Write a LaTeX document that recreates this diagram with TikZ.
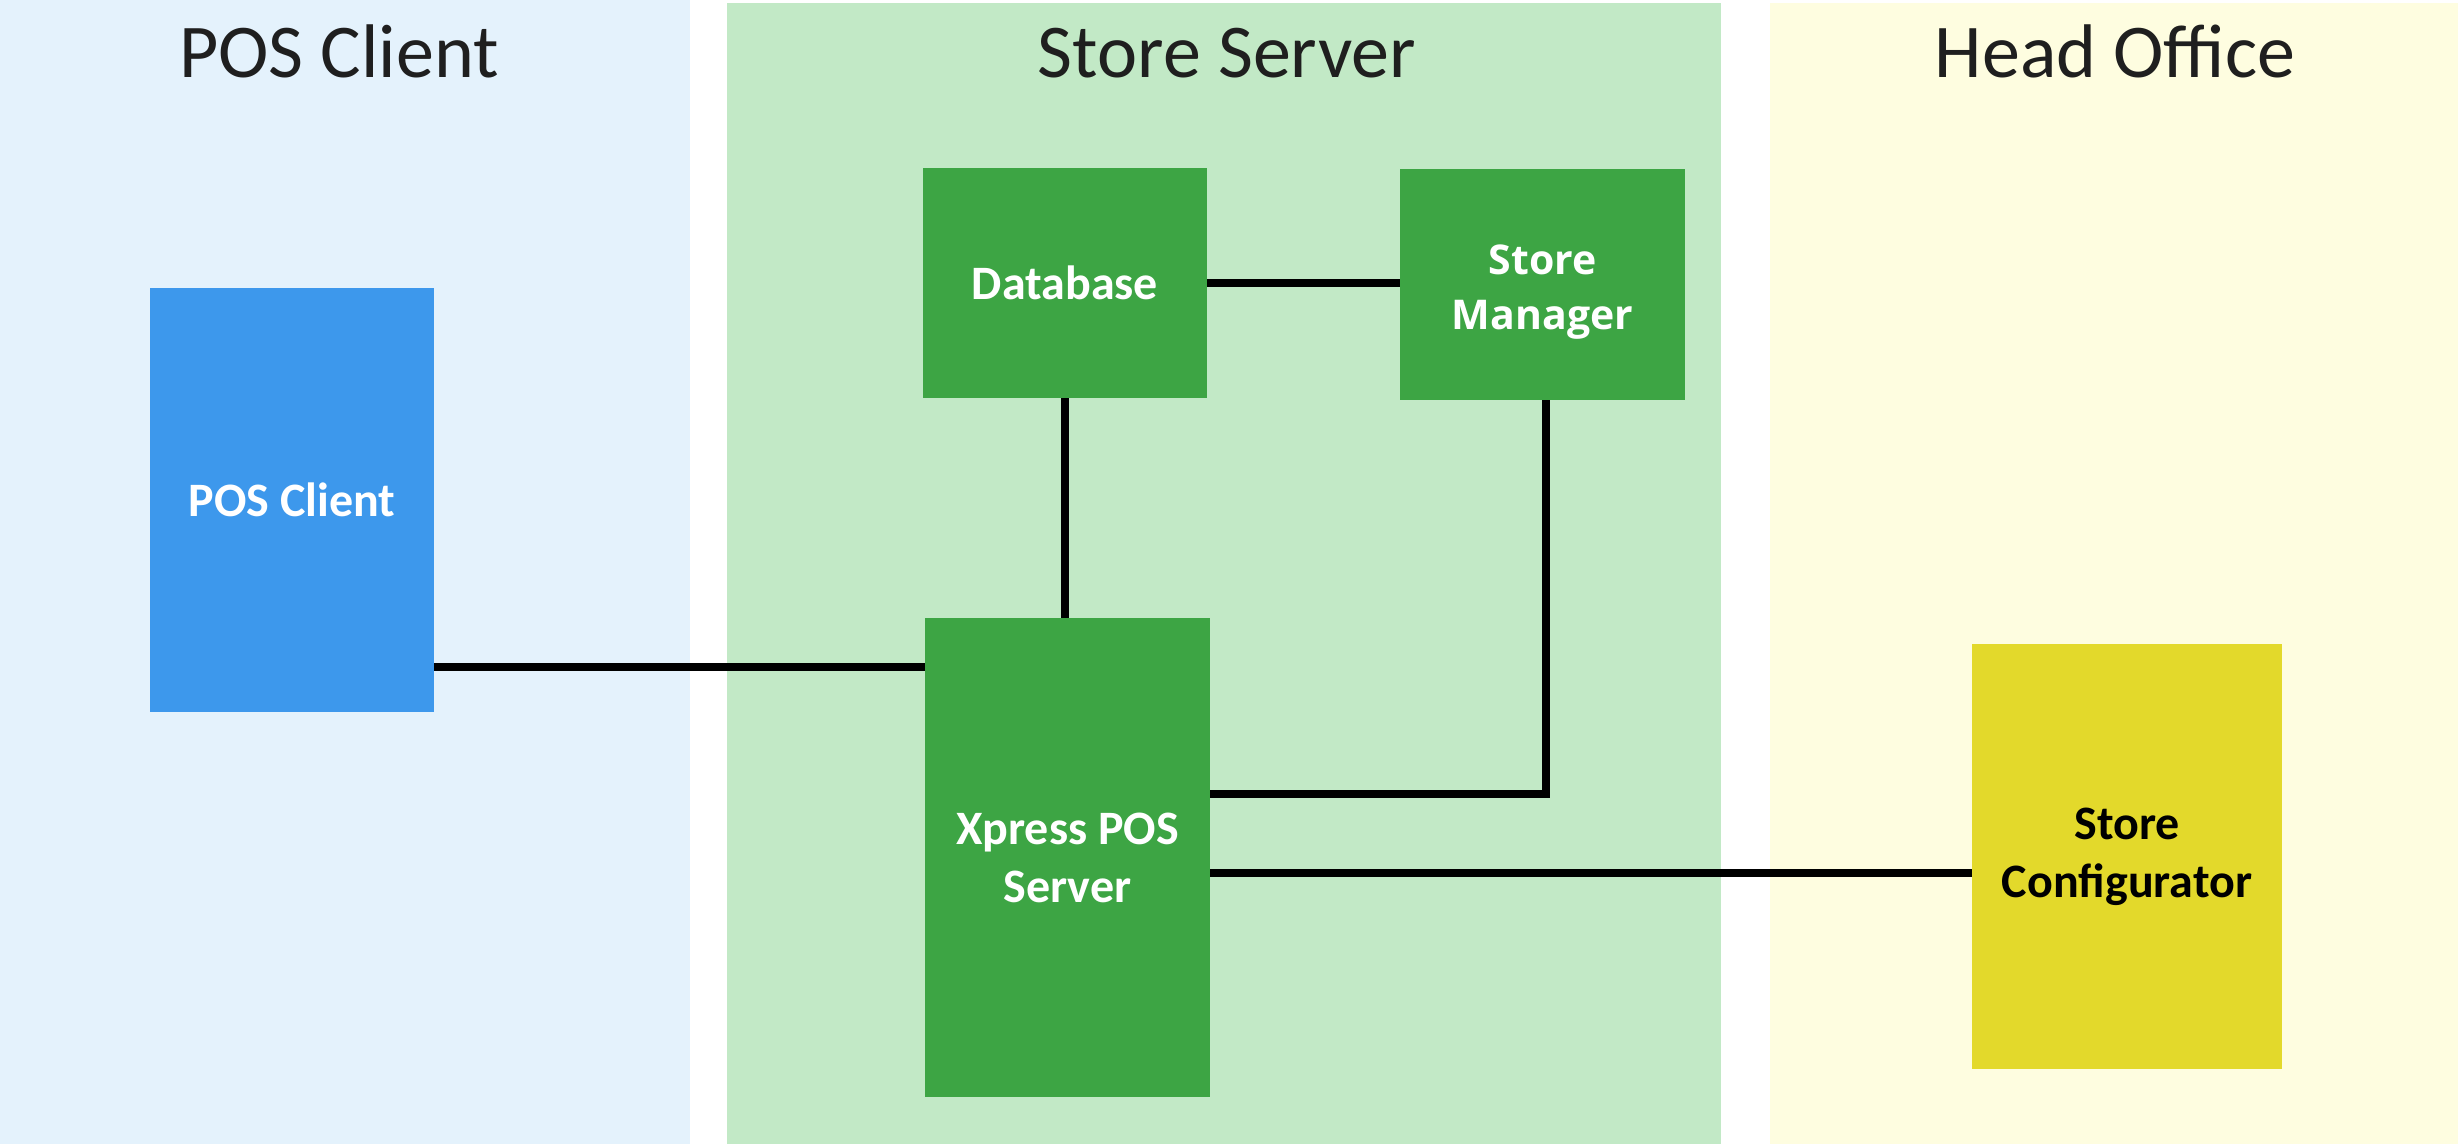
\documentclass[tikz,border=0pt]{standalone}
\usepackage{fontspec}
\setmainfont{Carlito}
\newfontfamily\osans{Open Sans}
\definecolor{panelblue}{HTML}{E4F2FC}
\definecolor{panelgreen}{HTML}{C2E9C6}
\definecolor{panelyellow}{HTML}{FEFDE0}
\definecolor{boxblue}{HTML}{3D98EC}
\definecolor{boxgreen}{HTML}{3DA544}
\definecolor{boxyellow}{HTML}{E3D92B}
\tikzset{
  panel/.style={draw=none},
  title/.style={font=\fontsize{38}{44}\selectfont, text=black!88, anchor=base, inner sep=0pt},
  box/.style={draw=none, rectangle, inner sep=0pt, align=center, text=white,
    font=\bfseries\fontsize{24}{29}\selectfont},
  link/.style={line width=4pt, draw=black}
}
\begin{document}
\begin{tikzpicture}[x=0.5pt, y=-0.5pt]
\useasboundingbox (0,0) rectangle (2458,1144);
\fill[white] (0,0) rectangle (2458,1144);
% panels
\fill[panelblue] (0,0) rectangle (690,1144);
\fill[panelgreen] (727,3) rectangle (1721,1144);
\fill[panelyellow] (1770,3) rectangle (2458,1144);
% titles
\node[title] (t1) at (339,78) {POS Client};
\node[title] (t2) at (1227,78) {Store Server};
\node[title] (t3) at (2115,78) {Head Office};
% boxes
\node[box, fill=boxblue, minimum width=142pt, minimum height=212pt] (posc) at (292,500) {POS Client};
\node[box, fill=boxgreen, minimum width=142pt, minimum height=115pt] (db) at (1065,283) {Database};
\node[box, fill=boxgreen, minimum width=142.5pt, minimum height=115.5pt] (sm) at (1542.5,284.5) {};
\node[box, font=\osans\bfseries\fontsize{20.5}{27.5}\selectfont] (smt) at (1542.5,292) {Store\\Manager};
\node[box, fill=boxgreen, minimum width=142.5pt, minimum height=239.5pt] (xps) at (1067.5,857.5) {Xpress POS\\Server};
\node[box, fill=boxyellow, text=black, minimum width=155pt, minimum height=212.5pt] (sc) at (2127,856.5) {Store\\Configurator};
% helper coordinates
\coordinate (ya) at (0,667);
\coordinate (yb) at (0,794);
\coordinate (yc) at (0,873);
\coordinate (xb) at (1546,0);
% connectors
\draw[link] (posc.east |- ya) -- (xps.west |- ya);
\draw[link] (db.south) -- (xps.north -| db.south);
\draw[link] (db.east) -- (sm.west |- db.east);
\draw[link] (sm.south -| xb) -- (xb |- yb) -- (xps.east |- yb);
\draw[link] (xps.east |- yc) -- (sc.west |- yc);
\end{tikzpicture}
\end{document}
